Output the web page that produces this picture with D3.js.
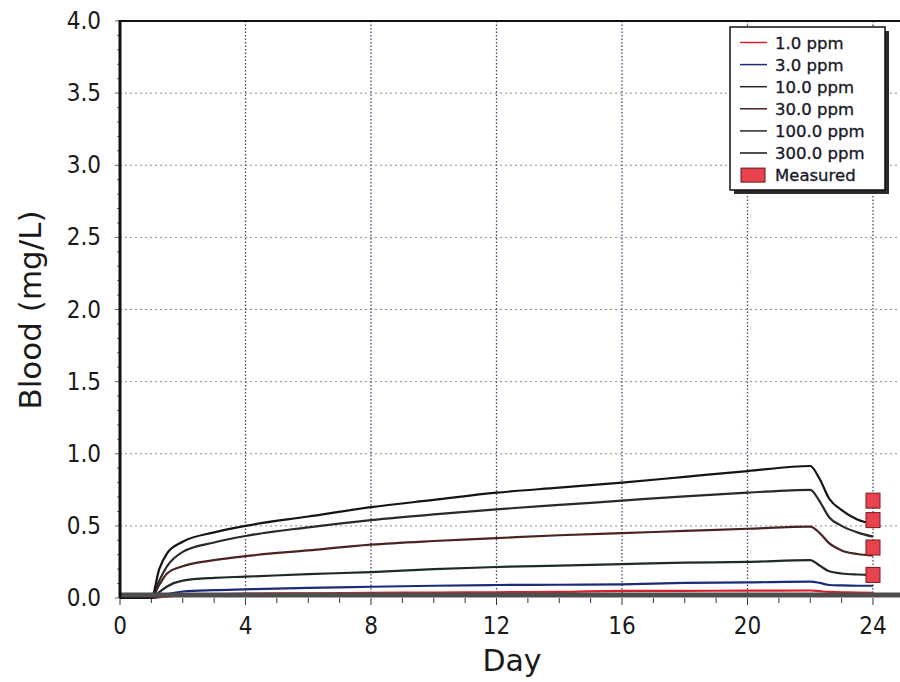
<!DOCTYPE html>
<html>
<head>
<meta charset="utf-8">
<script src="https://cdn.jsdelivr.net/npm/d3@7/dist/d3.min.js"></script>
<style>
  body { margin: 0; background: #fff; }
  svg { display: block; }
</style>
</head>
<body>
<svg id="chart" width="900" height="682"></svg>
<script>
// blood concentration (mg/L) vs day, one series per exposure level
var days = [0, 1, 1.25, 1.5, 2, 3, 4, 6, 8, 10, 12, 14, 16, 18, 20, 22, 22.3, 22.6, 23, 23.5, 24];

var ppm1   = [0, 0, 0.005, 0.01, 0.02, 0.026, 0.03, 0.033, 0.036, 0.038, 0.04, 0.042, 0.05, 0.05, 0.051, 0.052, 0.047, 0.042, 0.04, 0.037, 0.036];
var ppm3   = [0, 0, 0.01, 0.025, 0.045, 0.055, 0.06, 0.07, 0.078, 0.085, 0.09, 0.092, 0.095, 0.105, 0.108, 0.113, 0.105, 0.09, 0.087, 0.085, 0.085];
var ppm10  = [0, 0, 0.04, 0.08, 0.12, 0.14, 0.148, 0.165, 0.18, 0.2, 0.215, 0.225, 0.235, 0.245, 0.25, 0.263, 0.225, 0.185, 0.17, 0.163, 0.16];
var ppm30  = [0, 0, 0.09, 0.17, 0.22, 0.262, 0.29, 0.33, 0.37, 0.395, 0.415, 0.435, 0.45, 0.465, 0.48, 0.495, 0.45, 0.38, 0.33, 0.305, 0.295];
var ppm100 = [0, 0, 0.12, 0.22, 0.32, 0.385, 0.43, 0.49, 0.54, 0.58, 0.615, 0.645, 0.675, 0.705, 0.73, 0.75, 0.67, 0.56, 0.5, 0.455, 0.425];
var ppm300 = [0, 0, 0.2, 0.31, 0.39, 0.455, 0.5, 0.565, 0.63, 0.68, 0.73, 0.765, 0.8, 0.84, 0.88, 0.915, 0.825, 0.69, 0.61, 0.545, 0.515];

var seriesNames = ["1.0 ppm", "3.0 ppm", "10.0 ppm", "30.0 ppm", "100.0 ppm", "300.0 ppm"];
var seriesValues = [ppm1, ppm3, ppm10, ppm30, ppm100, ppm300];
var seriesColors = ["#d8202c", "#1c2a7a", "#1e2a22", "#4a2222", "#262b26", "#141414"];

var measuredDay = [24, 24, 24, 24];
var measuredValue = [0.675, 0.54, 0.35, 0.16];

var xTicks = [0, 4, 8, 12, 16, 20, 24];
var yTicks = [0, 0.5, 1, 1.5, 2, 2.5, 3, 3.5, 4];

var svg = d3.select("#chart");
var pLeft = 120, pRight = 873, pTop = 21, pBottom = 598;

var x = d3.scaleLinear().domain([0, 24]).range([pLeft, pRight]);
var y = d3.scaleLinear().domain([0, 4]).range([pBottom, pTop]);

svg.append("rect").attr("width", 900).attr("height", 682).attr("fill", "#fff");

// grid
svg.append("g").selectAll("line")
  .data(yTicks.filter(function(d) { return d > 0 && d < 4; }))
  .join("line")
    .attr("x1", pLeft).attr("x2", 900)
    .attr("y1", function(d) { return y(d); }).attr("y2", function(d) { return y(d); })
    .attr("stroke", "#8a8a8a").attr("stroke-width", 1)
    .attr("stroke-dasharray", "2,3");

svg.append("g").selectAll("line")
  .data(xTicks.filter(function(d) { return d > 0; }))
  .join("line")
    .attr("x1", function(d) { return x(d); }).attr("x2", function(d) { return x(d); })
    .attr("y1", pTop).attr("y2", pBottom)
    .attr("stroke", "#3c4a78").attr("stroke-width", 1.3)
    .attr("stroke-dasharray", "1.5,2");

// minor / major ticks
svg.append("g").selectAll("line")
  .data(d3.range(0, 25, 1))
  .join("line")
    .attr("x1", function(d) { return x(d); }).attr("x2", function(d) { return x(d); })
    .attr("y1", pBottom).attr("y2", function(d) { return pBottom + (d % 4 === 0 ? 7 : 5); })
    .attr("stroke", "#333").attr("stroke-width", 1);

svg.append("g").selectAll("line")
  .data(d3.range(0, 41, 1))
  .join("line")
    .attr("x1", function(d) { return pLeft - (d % 5 === 0 ? 5 : 3); }).attr("x2", pLeft)
    .attr("y1", function(d) { return y(d / 10); }).attr("y2", function(d) { return y(d / 10); })
    .attr("stroke", "#666").attr("stroke-width", 1);

// curves
var line = d3.line()
  .curve(d3.curveMonotoneX)
  .x(function(d) { return x(d[0]); })
  .y(function(d) { return y(d[1]); });

seriesValues.forEach(function(vals, i) {
  svg.append("path")
    .datum(days.map(function(d, j) { return [d, vals[j]]; }))
    .attr("d", line)
    .attr("fill", "none")
    .attr("stroke", seriesColors[i])
    .attr("stroke-width", 2.2);
});

// frame
svg.append("line").attr("x1", pLeft).attr("x2", 900).attr("y1", pTop).attr("y2", pTop)
  .attr("stroke", "#111").attr("stroke-width", 2);
svg.append("line").attr("x1", pLeft - 1).attr("x2", 900).attr("y1", pBottom - 3).attr("y2", pBottom - 3)
  .attr("stroke", "#4d4d4d").attr("stroke-width", 5);
svg.append("line").attr("x1", pLeft).attr("x2", pLeft).attr("y1", pTop - 1).attr("y2", pBottom)
  .attr("stroke", "#111").attr("stroke-width", 3);

// measured points
svg.append("g").selectAll("rect")
  .data(measuredValue)
  .join("rect")
    .attr("x", function(d, i) { return x(measuredDay[i]) - 7; })
    .attr("y", function(d) { return y(d) - 7.5; })
    .attr("width", 14).attr("height", 15)
    .attr("fill", "#e8424c").attr("stroke", "#7a1a1a").attr("stroke-width", 1);

// tick labels
svg.append("g").selectAll("text")
  .data(xTicks)
  .join("text")
    .attr("x", function(d) { return x(d); })
    .attr("y", 634)
    .attr("text-anchor", "middle")
    .style("font", "24px 'DejaVu Sans Condensed', sans-serif")
    .attr("fill", "#1a1a1a")
    .text(function(d) { return d; });

svg.append("g").selectAll("text")
  .data(yTicks)
  .join("text")
    .attr("x", 101)
    .attr("y", function(d) { return y(d) + 8; })
    .attr("text-anchor", "end")
    .style("font", "24px 'DejaVu Sans Condensed', sans-serif")
    .attr("fill", "#1a1a1a")
    .text(function(d) { return d.toFixed(1); });

// axis titles
svg.append("text")
  .attr("x", 512).attr("y", 671)
  .attr("text-anchor", "middle")
  .style("font", "30px 'DejaVu Sans', sans-serif")
  .attr("fill", "#1a1a1a")
  .text("Day");

svg.append("text")
  .attr("transform", "translate(41,310) rotate(-90)")
  .attr("text-anchor", "middle")
  .style("font", "31px 'DejaVu Sans', sans-serif")
  .attr("fill", "#1a1a1a")
  .text("Blood (mg/L)");

// legend
var lg = svg.append("g");
lg.append("rect").attr("x", 734).attr("y", 31).attr("width", 155).attr("height", 163).attr("fill", "#2a2a2a");
lg.append("rect").attr("x", 730).attr("y", 27).attr("width", 155).attr("height", 163)
  .attr("fill", "#fff").attr("stroke", "#111").attr("stroke-width", 1.5);

var rowY = function(i) { return 42.5 + i * 22.1; };

seriesNames.forEach(function(name, i) {
  lg.append("line")
    .attr("x1", 740).attr("x2", 767)
    .attr("y1", rowY(i)).attr("y2", rowY(i))
    .attr("stroke", seriesColors[i]).attr("stroke-width", 1.5);
  lg.append("text")
    .attr("x", 775).attr("y", rowY(i) + 6)
    .style("font", "16.5px 'DejaVu Sans', sans-serif")
    .attr("fill", "#1a1a2a")
    .attr("stroke", "#1a1a2a").attr("stroke-width", 0.35)
    .text(name);
});

lg.append("rect")
  .attr("x", 741).attr("y", rowY(6) - 7).attr("width", 24).attr("height", 14)
  .attr("fill", "#e8424c").attr("stroke", "#5a1a1a").attr("stroke-width", 1);
lg.append("text")
  .attr("x", 775).attr("y", rowY(6) + 6)
  .style("font", "16.5px 'DejaVu Sans', sans-serif")
  .attr("fill", "#1a1a2a")
  .attr("stroke", "#1a1a2a").attr("stroke-width", 0.35)
  .text("Measured");
</script>
</body>
</html>
